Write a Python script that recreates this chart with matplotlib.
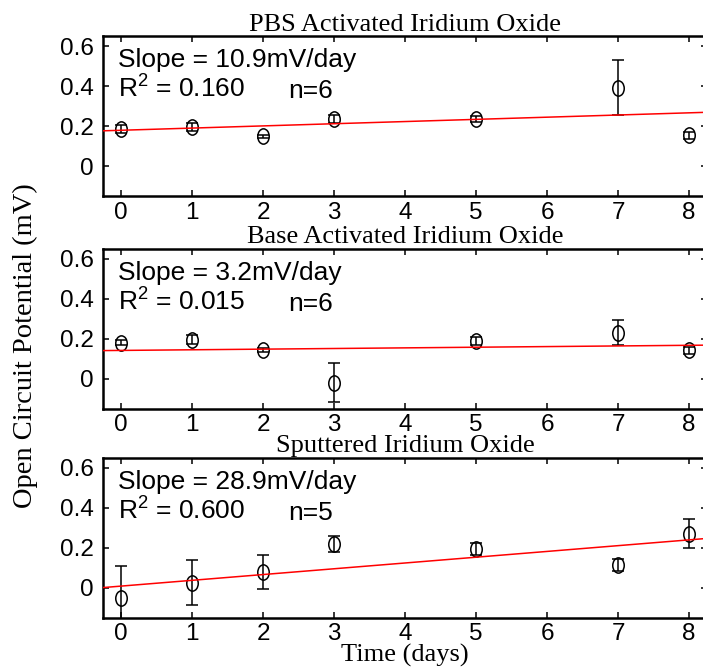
#Importing numpy and pyplot
import numpy as np
import matplotlib
matplotlib.use('Agg')
import matplotlib.pyplot as plt
from matplotlib.path import Path
from matplotlib.transforms import Affine2D

#data (values in V, slopes in mV/day)
days = [0, 1, 2, 3, 5, 7, 8]
titles = ['PBS Activated Iridium Oxide', 'Base Activated Iridium Oxide', 'Sputtered Iridium Oxide']

pbs_ocp = [0.185, 0.197, 0.148, 0.237, 0.235, 0.392, 0.153]
pbs_err = [0.020, 0.020, 0.006, 0.020, 0.016, 0.138, 0.018]

base_ocp = [0.180, 0.195, 0.143, -0.020, 0.188, 0.230, 0.142]
base_err = [0.012, 0.022, 0.010, 0.097, 0.020, 0.062, 0.016]

sput_ocp = [-0.050, 0.027, 0.078, 0.220, 0.197, 0.114, 0.272]
sput_err = [0.158, 0.112, 0.085, 0.040, 0.030, 0.030, 0.071]

slopes = [10.9, 3.2, 28.9] #mV/day
intercepts = [0.179, 0.142, 0.009]
r2 = ['0.160', '0.015', '0.600']
n = [6, 6, 5]

ocps = [pbs_ocp, base_ocp, sput_ocp]
errs = [pbs_err, base_err, sput_err]

plt.rcParams['font.family'] = ['Liberation Sans', 'DejaVu Sans']
plt.rcParams['mathtext.default'] = 'regular'

#slightly tall ellipse marker like the original
ell = Path.unit_circle().transformed(Affine2D().scale(0.75, 1.0))

fig = plt.figure(figsize=(7.03, 6.68), dpi=100)
bottoms = [0.7065, 0.388, 0.075]
xlim = np.array([-0.25, 8.25])

for i in range(3):
	ax = fig.add_axes([0.147, bottoms[i], 0.8585, 0.2395])
	ax.errorbar(days, ocps[i], yerr=errs[i], fmt='none', ecolor='k',
		elinewidth=1.1, capsize=4, capthick=1.1, zorder=2)
	ax.plot(days, ocps[i], ls='none', marker=ell, ms=11, mfc='none',
		mec='k', mew=1.1, zorder=3)
	ax.plot(xlim, intercepts[i] + slopes[i] / 1000 * xlim, color='#ff0000', lw=1.1, zorder=4)
	ax.set_xlim(xlim)
	ax.set_ylim(-0.15, 0.65)
	ax.set_xticks(range(9))
	ax.set_yticks([0, 0.2, 0.4, 0.6])
	ax.set_yticklabels(['0', '0.2', '0.4', '0.6'])
	ax.tick_params(direction='in', length=4.5, width=1.1, top=True, right=True,
		labelsize=17.5, pad=4)
	ax.tick_params(axis='y', pad=7)
	for s in ax.spines.values():
		s.set_linewidth(1.8)
	ax.set_title(titles[i], family='Liberation Serif', fontsize=19, pad=4)
	ax.text(0.024, 0.806, 'Slope = %smV/day' % slopes[i], transform=ax.transAxes,
		fontsize=19, va='baseline')
	ax.text(0.024, 0.6125, 'R$^2$ = ' + r2[i], transform=ax.transAxes,
		fontsize=19, va='baseline')
	ax.text(0.306, 0.6125, 'n=%d' % n[i], transform=ax.transAxes,
		fontsize=19, va='baseline')

fig.text(0.576, 0.009, 'Time (days)', family='Liberation Serif', fontsize=19,
	ha='center', va='baseline')
fig.text(0.0356, 0.482, 'Open Circuit Potential (mV)', family='Liberation Serif',
	fontsize=20.5, rotation=90, ha='center', va='center')

plt.savefig('out.png', dpi=100)
